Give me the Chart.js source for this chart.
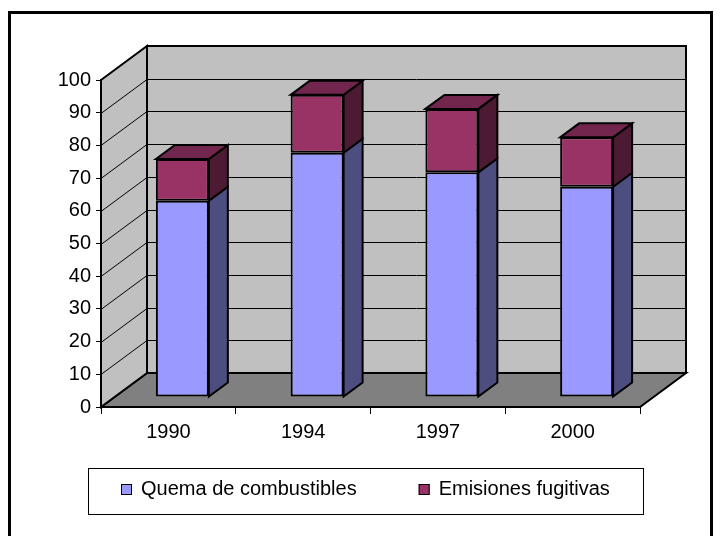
<!DOCTYPE html>
<html>
<head>
<meta charset="utf-8">
<script src="https://cdn.jsdelivr.net/npm/chart.js@4.4.1/dist/chart.umd.min.js"></script>
<style>
  html, body { margin: 0; padding: 0; background: #fff; }
  #wrap { position: relative; width: 724px; height: 536px; overflow: hidden; }
  canvas { position: absolute; left: 0; top: 0; }
</style>
</head>
<body>
<div id="wrap"><canvas id="emisiones" width="724" height="536"></canvas></div>
<script>
const years = ['1990', '1994', '1997', '2000'];
const quemaCombustibles = [60, 74.7, 68.7, 64.3];
const emisionesFugitivas = [12.8, 17.7, 19.4, 15.1];
const seriesNames = ['Quema de combustibles', 'Emisiones fugitivas'];
const yMax = 100;
const yStep = 10;

const FRONT = ['#9999FF', '#993366'];
const SIDE = ['#4D4D80', '#4D1A33'];
const TOP = ['#7373BF', '#73264D'];
const FONT = 'Arial, "Liberation Sans", sans-serif';

const DEPTH = { x: 46, y: -34 };      // floor / walls depth
const SHIFT = { x: 14, y: -10 };      // bars stand a little behind the front edge
const BAR_DEPTH = { x: 19, y: -14 };  // thickness of each column

function poly(ctx, pts, fill, lw) {
    ctx.beginPath();
    pts.forEach(([px, py], k) => k ? ctx.lineTo(px, py) : ctx.moveTo(px, py));
    ctx.closePath();
    ctx.fillStyle = fill;
    ctx.fill();
    ctx.lineWidth = lw;
    ctx.strokeStyle = '#000';
    ctx.stroke();
}

// floor, side wall, back wall and their grid lines
const walls = {
    id: 'walls',
    beforeDraw(chart) {
        const { ctx, chartArea: a, scales: { y } } = chart;
        const top = y.getPixelForValue(yMax);
        const bottom = y.getPixelForValue(0);
        const bx = a.left + DEPTH.x, rx = a.right + DEPTH.x;
        ctx.save();
        poly(ctx, [[a.left, bottom], [bx, bottom + DEPTH.y], [rx, bottom + DEPTH.y], [a.right, bottom]], '#808080', 2);
        poly(ctx, [[a.left, top], [bx, top + DEPTH.y], [bx, bottom + DEPTH.y], [a.left, bottom]], '#C0C0C0', 2);
        poly(ctx, [[bx, top + DEPTH.y], [rx, top + DEPTH.y], [rx, bottom + DEPTH.y], [bx, bottom + DEPTH.y]], '#C0C0C0', 2);

        ctx.lineWidth = 1;
        ctx.strokeStyle = '#000';
        y.ticks.forEach(t => {
            if (t.value === 0 || t.value === yMax) return;
            const py = Math.round(y.getPixelForValue(t.value)) + 0.5;
            ctx.beginPath();
            ctx.moveTo(a.left, py);
            ctx.lineTo(bx, py + DEPTH.y);
            ctx.lineTo(rx, py + DEPTH.y);
            ctx.stroke();
        });
        ctx.restore();
    }
};

// push the columns back and give them a side and a lid
const bars3d = {
    id: 'bars3d',
    beforeDatasetsDraw(chart) {
        chart.ctx.save();
        chart.ctx.translate(SHIFT.x, SHIFT.y);
    },
    afterDatasetsDraw(chart) {
        const ctx = chart.ctx;
        const last = chart.data.datasets.length - 1;
        chart.data.datasets.forEach((ds, i) => {
            chart.getDatasetMeta(i).data.forEach(bar => {
                const { x, y, base, width } = bar.getProps(['x', 'y', 'base', 'width'], true);
                const l = x - width / 2, r = x + width / 2;
                poly(ctx, [[r, y], [r + BAR_DEPTH.x, y + BAR_DEPTH.y], [r + BAR_DEPTH.x, base + BAR_DEPTH.y], [r, base]], SIDE[i], 2);
                if (i === last) {
                    poly(ctx, [[l, y], [l + BAR_DEPTH.x, y + BAR_DEPTH.y], [r + BAR_DEPTH.x, y + BAR_DEPTH.y], [r, y]], TOP[i], 2);
                }
            });
        });
        ctx.restore();
    }
};

// boxed legend under the axis
const legendBox = {
    id: 'legendBox',
    afterDraw(chart) {
        const ctx = chart.ctx;
        const box = { left: 88, top: 468, right: 643, bottom: 514 };
        const gap = 62, mark = 11, textGap = 9;
        ctx.save();
        ctx.fillStyle = '#fff';
        ctx.fillRect(box.left, box.top, box.right - box.left, box.bottom - box.top);
        ctx.lineWidth = 1;
        ctx.strokeStyle = '#000';
        ctx.strokeRect(box.left + 0.5, box.top + 0.5, box.right - box.left, box.bottom - box.top);

        ctx.font = '20px ' + FONT;
        ctx.textBaseline = 'middle';
        const items = chart.data.datasets.map(ds => ({ text: ds.label, color: ds.backgroundColor, w: ctx.measureText(ds.label).width }));
        const total = items.reduce((s, it) => s + mark + textGap + it.w, 0) + gap * (items.length - 1);
        let cx = Math.round((box.left + box.right - total) / 2);
        const cy = (box.top + box.bottom) / 2 - 2;
        items.forEach(it => {
            ctx.fillStyle = it.color;
            ctx.fillRect(cx, Math.round(cy - mark / 2), mark, mark);
            ctx.strokeRect(cx + 0.5, Math.round(cy - mark / 2) + 0.5, mark - 1, mark - 1);
            ctx.fillStyle = '#000';
            ctx.fillText(it.text, cx + mark + textGap, cy);
            cx += mark + textGap + it.w + gap;
        });
        ctx.restore();
    }
};

// heavy outer frame of the chart
const frame = {
    id: 'frame',
    afterDraw(chart) {
        const ctx = chart.ctx;
        ctx.save();
        ctx.fillStyle = '#000';
        ctx.fillRect(8, 11, 3, 525);
        ctx.fillRect(8, 11, 705, 3);
        ctx.fillRect(710, 11, 3, 525);
        ctx.restore();
    }
};

const tickFont = { size: 20, family: FONT };

new Chart(document.getElementById('emisiones'), {
    type: 'bar',
    data: {
        labels: years,
        datasets: [
            { label: seriesNames[0], data: quemaCombustibles, backgroundColor: FRONT[0] },
            { label: seriesNames[1], data: emisionesFugitivas, backgroundColor: FRONT[1] }
        ].map(ds => Object.assign(ds, {
            borderColor: '#000',
            borderWidth: 2,
            borderSkipped: false,
            categoryPercentage: 1,
            barPercentage: 0.393,
            clip: false
        }))
    },
    options: {
        responsive: false,
        animation: false,
        events: [],
        layout: { padding: { left: 41, top: 80, right: 84, bottom: 89 } },
        plugins: { legend: { display: false }, tooltip: { enabled: false } },
        scales: {
            x: {
                stacked: true,
                offset: true,
                grid: { offset: true, drawOnChartArea: false, color: '#000', tickLength: 7 },
                border: { color: '#000', width: 2 },
                ticks: { color: '#000', font: tickFont, padding: 6 },
                afterFit(s) { s.height = 40; }
            },
            y: {
                stacked: true,
                min: 0,
                max: yMax,
                grid: { drawOnChartArea: false, color: '#000', tickLength: 5 },
                border: { color: '#000', width: 2 },
                ticks: { stepSize: yStep, color: '#000', font: tickFont, padding: 5 },
                afterFit(s) { s.width = 60; }
            }
        }
    },
    plugins: [walls, bars3d, legendBox, frame]
});
</script>
</body>
</html>
